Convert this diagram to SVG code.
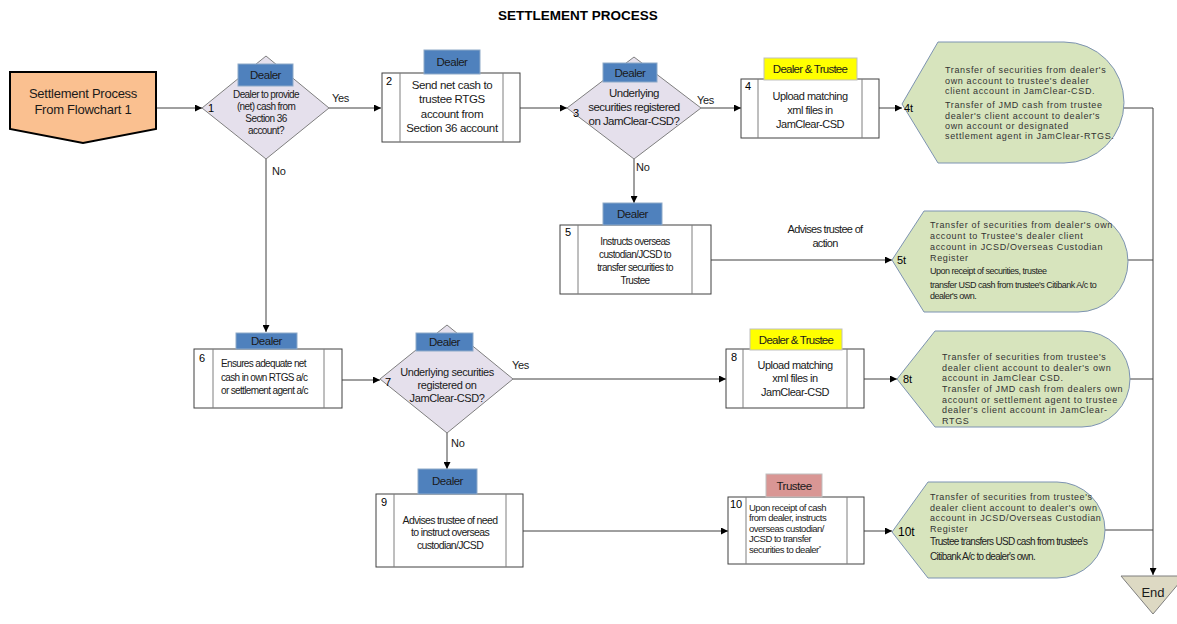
<svg xmlns="http://www.w3.org/2000/svg" width="1177" height="624" viewBox="0 0 1177 624">
<defs>
<marker id="arr" viewBox="0 0 10 10" refX="10" refY="5" markerWidth="7" markerHeight="7" markerUnits="userSpaceOnUse" orient="auto">
<path d="M0,0 L10,5 L0,10 Z" fill="#000"/>
</marker>
<style>
text{font-family:"Liberation Sans",Arial,sans-serif;fill:#1a1a1a}
.title{font-size:13.5px;font-weight:bold;text-anchor:middle;fill:#000}
.start{fill:#FAC090;stroke:#000;stroke-width:2}
.st{font-size:13px;letter-spacing:-0.25px;text-anchor:middle}
.dia{fill:#E5E0EC;stroke:#7F7F7F;stroke-width:1}
.box{fill:#fff;stroke:#404040;stroke-width:1}
.inner{stroke:#7F7F7F;stroke-width:1}
.lblD{fill:#4F81BD;stroke:#8EA9C8;stroke-width:1}
.lblY{fill:#FFFF00;stroke:#BFBFBF;stroke-width:1}
.lblT{fill:#D99694;stroke:#BFBFBF;stroke-width:1}
.lt{font-size:11.5px;letter-spacing:-0.5px;text-anchor:middle}
.disp{fill:#D7E4BD;stroke:#7D93B2;stroke-width:1}
.dt{font-size:9px;letter-spacing:0.65px;fill:#333}
.dn{font-size:9.5px;letter-spacing:-0.5px;fill:#222}
.num{font-size:11px;fill:#000}
.c11{font-size:11px;letter-spacing:-0.4px;text-anchor:middle}
.c10{font-size:10px;letter-spacing:-0.6px;text-anchor:middle}
.l10{font-size:10px;letter-spacing:-0.65px}
.b12{font-size:11.5px;letter-spacing:-0.35px;text-anchor:middle}
.yn{font-size:11px;letter-spacing:-0.3px}
.end{fill:#DDD9C3;stroke:#7F7F7F;stroke-width:1}
.conn{fill:none;stroke:#404040;stroke-width:1}
.ca{fill:none;stroke:#404040;stroke-width:1;marker-end:url(#arr)}
</style>
</defs>
<rect width="1177" height="624" fill="#fff"/>
<text class="title" x="578" y="20">SETTLEMENT PROCESS</text>

<g id="connectors">
<path class="ca" d="M156,108 H202"/>
<path class="ca" d="M329,108 H381"/>
<path class="ca" d="M520,108 H567"/>
<path class="ca" d="M701,108 H741"/>
<path class="ca" d="M879,108 H902"/>
<path class="ca" d="M634,159 V203"/>
<path class="ca" d="M266,159 V332"/>
<path class="ca" d="M711,260 H892"/>
<path class="ca" d="M342,380 H380"/>
<path class="ca" d="M513,379 H726"/>
<path class="ca" d="M864,379 H897"/>
<path class="ca" d="M447,433 V469"/>
<path class="ca" d="M523,531 H728"/>
<path class="ca" d="M864,531 H892"/>
<path class="ca" d="M1119,108 H1153 V575"/>
<path class="conn" d="M1128,260 H1153"/>
<path class="conn" d="M1130,379 H1153"/>
<path class="conn" d="M1105,530 H1153"/>
<text class="yn" x="332" y="102">Yes</text>
<text class="yn" x="272" y="175">No</text>
<text class="yn" x="697" y="104">Yes</text>
<text class="yn" x="636" y="171">No</text>
<text class="yn" x="512" y="369">Yes</text>
<text class="yn" x="451" y="447">No</text>
<text class="c11" x="825" y="233" style="letter-spacing:-0.7px">Advises trustee of</text>
<text class="c11" x="825" y="247" style="letter-spacing:-0.7px">action</text>
</g>

<g id="start">
<path class="start" d="M10,72 H156 V129 L83,143 L10,129 Z"/>
<text class="st" x="83" y="98">Settlement Process</text>
<text class="st" x="83" y="114">From Flowchart 1</text>
</g>

<g id="n1">
<path class="dia" d="M266,56 L329,108 L266,159 L202,108 Z"/>
<rect class="lblD" x="238" y="64" width="55" height="22"/>
<text class="lt" x="265.5" y="79">Dealer</text>
<text class="c10" x="266" y="98">Dealer to provide</text>
<text class="c10" x="266" y="110">(net) cash from</text>
<text class="c10" x="266" y="122">Section 36</text>
<text class="c10" x="266" y="134">account?</text>
<text class="num" x="208" y="112">1</text>
</g>

<g id="n2">
<rect class="box" x="382" y="73" width="138" height="69"/>
<line class="inner" x1="400" y1="73" x2="400" y2="142"/>
<line class="inner" x1="503" y1="73" x2="503" y2="142"/>
<rect class="lblD" x="424" y="50" width="56" height="24"/>
<text class="lt" x="452" y="66">Dealer</text>
<text class="num" x="386" y="85">2</text>
<text class="b12" x="452" y="89">Send net cash to</text>
<text class="b12" x="452" y="103">trustee RTGS</text>
<text class="b12" x="452" y="118">account from</text>
<text class="b12" x="452" y="132">Section 36 account</text>
</g>

<g id="n3">
<path class="dia" d="M634,57 L701,108 L634,159 L567,108 Z"/>
<rect class="lblD" x="603" y="63" width="54" height="19"/>
<text class="lt" x="630" y="77">Dealer</text>
<text class="c11" x="634" y="97" style="font-size:11.5px;letter-spacing:-0.5px">Underlying</text>
<text class="c11" x="634" y="111" style="font-size:11.5px;letter-spacing:-0.55px">securities  registered</text>
<text class="c11" x="634" y="125" style="font-size:11.5px;letter-spacing:-0.55px">on JamClear-CSD?</text>
<text class="num" x="573" y="117">3</text>
</g>

<g id="n4">
<rect class="box" x="741" y="79" width="138" height="59"/>
<line class="inner" x1="758" y1="79" x2="758" y2="138"/>
<line class="inner" x1="862" y1="79" x2="862" y2="138"/>
<rect class="lblY" x="764" y="58" width="93" height="22"/>
<text class="lt" x="810" y="73" style="letter-spacing:-0.75px">Dealer &amp; Trustee</text>
<text class="num" x="745" y="90">4</text>
<text class="c11" x="810" y="100" style="letter-spacing:-0.5px">Upload matching</text>
<text class="c11" x="810" y="114" style="letter-spacing:-0.5px">xml files  in</text>
<text class="c11" x="810" y="128" style="letter-spacing:-0.5px">JamClear-CSD</text>
</g>

<g id="n4t">
<path class="disp" d="M902,104 L938,42 H1064 A60,60.5 0 0 1 1064,163 H938 Z"/>
<text class="num" x="904" y="112">4t</text>
<text class="dt" x="945" y="73">Transfer of securities from dealer's</text>
<text class="dt" x="945" y="84">own account to trustee's dealer</text>
<text class="dt" x="945" y="94">client account in JamClear-CSD.</text>
<text class="dt" x="945" y="108">Transfer of JMD  cash from trustee</text>
<text class="dt" x="945" y="119">dealer's client account to dealer's</text>
<text class="dt" x="945" y="129">own account or designated</text>
<text class="dt" x="945" y="139">settlement  agent in JamClear-RTGS.</text>
</g>

<g id="n5">
<rect class="box" x="560" y="225" width="151" height="69"/>
<line class="inner" x1="578" y1="225" x2="578" y2="294"/>
<line class="inner" x1="692" y1="225" x2="692" y2="294"/>
<rect class="lblD" x="603" y="203" width="59" height="22"/>
<text class="lt" x="632.5" y="218">Dealer</text>
<text class="num" x="565" y="236">5</text>
<text class="c10" x="635" y="245" style="letter-spacing:-0.65px">Instructs overseas</text>
<text class="c10" x="635" y="258" style="letter-spacing:-0.65px">custodian/JCSD to</text>
<text class="c10" x="635" y="271" style="letter-spacing:-0.65px">transfer securities to</text>
<text class="c10" x="635" y="284" style="letter-spacing:-0.65px">Trustee</text>
</g>

<g id="n5t">
<path class="disp" d="M892,260 L924,211 H1078 A50,50.5 0 0 1 1078,312 H924 Z"/>
<text class="num" x="897" y="264">5t</text>
<text class="dt" x="930" y="228">Transfer of securities from dealer's own</text>
<text class="dt" x="930" y="239">account to Trustee's dealer  client</text>
<text class="dt" x="930" y="250">account in JCSD/Overseas Custodian</text>
<text class="dt" x="930" y="261">Register</text>
<text class="dn" x="930" y="274" style="font-size:9px">Upon receipt of securities,  trustee</text>
<text class="dn" x="930" y="288" style="font-size:9px">transfer  USD cash from trustee's  Citibank  A/c to</text>
<text class="dn" x="930" y="299" style="font-size:9px">dealer's own.</text>
</g>

<g id="n6">
<rect class="box" x="194" y="349" width="148" height="59"/>
<line class="inner" x1="213" y1="349" x2="213" y2="408"/>
<line class="inner" x1="324" y1="349" x2="324" y2="408"/>
<rect class="lblD" x="236" y="333" width="61" height="16"/>
<text class="lt" x="266.5" y="345">Dealer</text>
<text class="num" x="199" y="362">6</text>
<text class="l10" x="221" y="367">Ensures adequate net</text>
<text class="l10" x="221" y="381">cash in own RTGS a/c</text>
<text class="l10" x="221" y="394">or settlement agent a/c</text>
</g>

<g id="n7">
<path class="dia" d="M447,325 L513,379 L447,433 L380,379 Z"/>
<rect class="lblD" x="416" y="333" width="57" height="18"/>
<text class="lt" x="444.5" y="346">Dealer</text>
<text class="c11" x="447" y="376">Underlying securities</text>
<text class="c11" x="447" y="389">registered on</text>
<text class="c11" x="447" y="402">JamClear-CSD?</text>
<text class="num" x="385" y="386">7</text>
</g>

<g id="n8">
<rect class="box" x="726" y="349" width="138" height="59"/>
<line class="inner" x1="743" y1="349" x2="743" y2="408"/>
<line class="inner" x1="847" y1="349" x2="847" y2="408"/>
<rect class="lblY" x="750" y="329" width="92" height="21"/>
<text class="lt" x="796" y="344" style="letter-spacing:-0.75px">Dealer &amp; Trustee</text>
<text class="num" x="731" y="361">8</text>
<text class="c11" x="795" y="369" style="letter-spacing:-0.5px">Upload matching</text>
<text class="c11" x="795" y="382" style="letter-spacing:-0.5px">xml files in</text>
<text class="c11" x="795" y="396" style="letter-spacing:-0.5px">JamClear-CSD</text>
</g>

<g id="n8t">
<path class="disp" d="M897,379 L935,331 H1082 A48,48 0 0 1 1082,427 H935 Z"/>
<text class="num" x="903" y="383">8t</text>
<text class="dt" x="942" y="360">Transfer of securities from trustee's</text>
<text class="dt" x="942" y="371">dealer client account to dealer's own</text>
<text class="dt" x="942" y="381">account in JamClear CSD.</text>
<text class="dt" x="942" y="392">Transfer of JMD cash from dealers own</text>
<text class="dt" x="942" y="403">account or settlement  agent to trustee</text>
<text class="dt" x="942" y="413">dealer's client account in JamClear-</text>
<text class="dt" x="942" y="424">RTGS</text>
</g>

<g id="n9">
<rect class="box" x="376" y="494" width="147" height="73"/>
<line class="inner" x1="394" y1="494" x2="394" y2="567"/>
<line class="inner" x1="506" y1="494" x2="506" y2="567"/>
<rect class="lblD" x="418" y="469" width="59" height="25"/>
<text class="lt" x="447.5" y="485">Dealer</text>
<text class="num" x="381" y="506">9</text>
<text class="c10" x="450" y="524" style="font-size:10.5px;letter-spacing:-0.65px">Advises trustee of need</text>
<text class="c10" x="450" y="536" style="font-size:10.5px;letter-spacing:-0.65px">to instruct  overseas</text>
<text class="c10" x="450" y="549" style="font-size:10.5px;letter-spacing:-0.65px">custodian/JCSD</text>
</g>

<g id="n10">
<rect class="box" x="728" y="497" width="136" height="67"/>
<line class="inner" x1="746" y1="497" x2="746" y2="564"/>
<line class="inner" x1="847" y1="497" x2="847" y2="564"/>
<rect class="lblT" x="766" y="474" width="56" height="23"/>
<text class="lt" x="794" y="490">Trustee</text>
<text class="num" x="730" y="508">10</text>
<text class="dn" x="749" y="511">Upon receipt of cash</text>
<text class="dn" x="749" y="521">from dealer, instructs</text>
<text class="dn" x="749" y="532">overseas custodian/</text>
<text class="dn" x="749" y="542">JCSD to transfer</text>
<text class="dn" x="749" y="553">securities to dealer<tspan font-size="6" dy="-3">*</tspan></text>
</g>

<g id="n10t">
<path class="disp" d="M892,532 L928,482 H1057 A48,48 0 0 1 1057,578 H928 Z"/>
<text class="num" x="898" y="536" style="font-size:12px">10t</text>
<text class="dt" x="930" y="500" style="letter-spacing:0.6px">Transfer of securities from trustee's</text>
<text class="dt" x="930" y="511" style="letter-spacing:0.6px">dealer client account to dealer's own</text>
<text class="dt" x="930" y="521" style="letter-spacing:0.6px">account in JCSD/Overseas Custodian</text>
<text class="dt" x="930" y="532" style="letter-spacing:0.6px">Register</text>
<text class="dn" x="930" y="545" style="font-size:10px;letter-spacing:-0.7px">Trustee transfers USD cash from trustee's</text>
<text class="dn" x="930" y="560" style="font-size:10px;letter-spacing:-0.7px">Citibank A/c to dealer's own.</text>
</g>

<g id="end">
<path class="end" d="M1121,576 H1185 L1153,614 Z"/>
<text x="1153" y="597" style="font-size:13px;text-anchor:middle">End</text>
</g>
</svg>
